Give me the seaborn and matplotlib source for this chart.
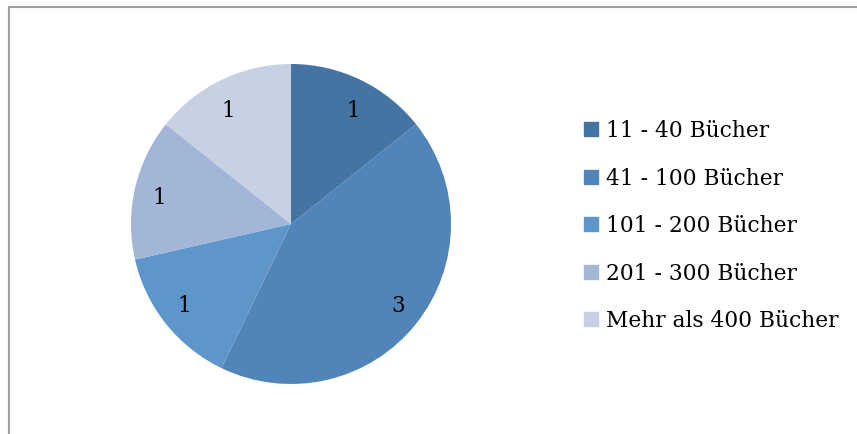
import matplotlib
matplotlib.use("Agg")
import matplotlib.pyplot as plt
import matplotlib.patches as mpatches
import seaborn as sns

categories = ["11 - 40 Bücher", "41 - 100 Bücher", "101 - 200 Bücher",
              "201 - 300 Bücher", "Mehr als 400 Bücher"]
counts = [1, 3, 1, 1, 1]
colors = ["#4674A2", "#5185B9", "#5E96CB", "#A3B6D8", "#C7D1E4"]

sns.set_style("white")
plt.rcParams['font.family'] = ['DejaVu Serif']

W, H = 857, 434
fig = plt.figure(figsize=(W / 100, H / 100), dpi=100)

# outer chart frame (runs off right/bottom edge like the source)
fig.patches.append(mpatches.Rectangle((9 / W, -0.1), 1.2, 1 - 7 / H + 0.1,
                                      transform=fig.transFigure, fill=False,
                                      edgecolor="#A0A0A0", linewidth=1.5))

cx, cy, r = 291, 224, 160
ax = fig.add_axes([(cx - r) / W, (H - cy - r) / H, 2 * r / W, 2 * r / H])
wedges, texts = ax.pie(counts, colors=colors, startangle=90, counterclock=False,
                       labels=[str(c) for c in counts], labeldistance=0.8,
                       wedgeprops=dict(linewidth=0),
                       textprops=dict(fontsize=15.5, color="black"))
for t in texts:
    t.set_verticalalignment("center_baseline")
ax.set_xlim(-1, 1)
ax.set_ylim(-1, 1)
ax.set_aspect("equal")
ax.axis("off")

handles = [mpatches.Patch(color=c, label=l) for c, l in zip(colors, categories)]
fig.legend(handles=handles, loc="upper left",
           bbox_to_anchor=(584 / W, 1 - 120 / H), frameon=False,
           fontsize=15.7, handlelength=0.62, handleheight=0.62,
           handletextpad=0.4, labelspacing=1.17, borderpad=0, borderaxespad=0,
           labelcolor="black")

fig.savefig("out.png", dpi=100)
